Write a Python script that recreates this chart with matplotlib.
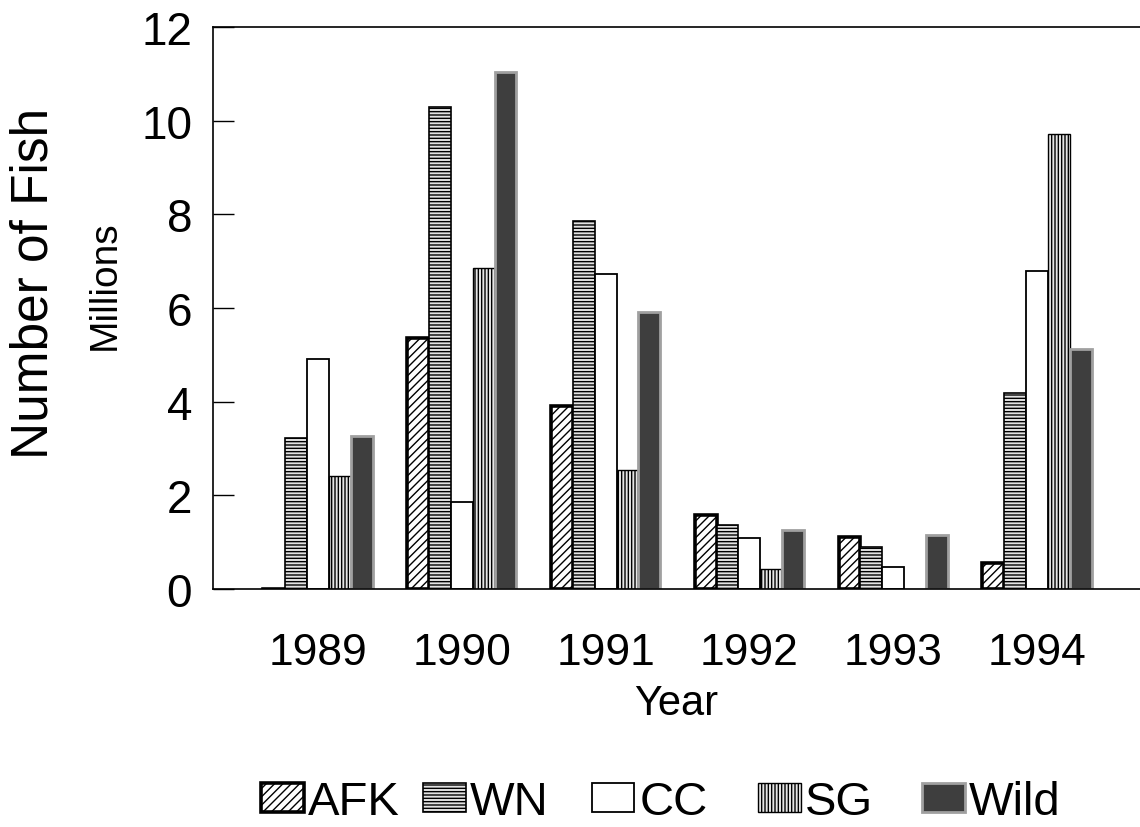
import numpy as np
import matplotlib
matplotlib.use("Agg")
import matplotlib.pyplot as plt

plt.rcParams['font.family'] = ['Liberation Sans', 'DejaVu Sans']
plt.rcParams['hatch.linewidth'] = 1.0

years = ['1989', '1990', '1991', '1992', '1993', '1994']
series = ['AFK', 'WN', 'CC', 'SG', 'Wild']

afk = [-0.06, 5.35, 3.9, 1.58, 1.12, 0.55]
wn = [3.22, 10.3, 7.85, 1.36, 0.9, 4.18]
cc = [4.92, 1.85, 6.72, 1.1, 0.48, 6.8]
sg = [2.42, 6.85, 2.55, 0.42, 0.0, 9.72]
wild = [3.27, 11.03, 5.92, 1.25, 1.16, 5.12]

values = [afk, wn, cc, sg, wild]

# style per series
styles = [
    dict(facecolor='white', edgecolor='black', hatch='////', linewidth=2.6),
    dict(facecolor='#e2e2e2', edgecolor='black', hatch='-----', linewidth=1.2),
    dict(facecolor='white', edgecolor='black', hatch=None, linewidth=1.3),
    dict(facecolor='#e6e6e6', edgecolor='black', hatch='|||||', linewidth=1.0),
    dict(facecolor='#3e3e3e', edgecolor='#a0a0a0', hatch=None, linewidth=2.0),
]

fig = plt.figure(figsize=(11.4, 8.28), dpi=100)
ax = fig.add_axes([0.1868, 0.2874, 0.8132, 0.6788])

x = np.arange(len(years))
width = 0.152
bars = []
for i, (name, vals) in enumerate(zip(series, values)):
    bars.append(ax.bar(x + (i - 2) * width, vals, width, label=name, **styles[i]))

ax.set_xlim(-0.73, 5.716)
ax.set_ylim(0, 12)
ax.set_yticks(range(0, 13, 2))
ax.set_xticks(x)
ax.set_xticklabels(years)
ax.tick_params(axis='x', length=0, pad=31, labelsize=32)
ax.tick_params(axis='y', direction='in', length=15, width=1, pad=15, labelsize=33)
ax.spines['right'].set_visible(False)
for s in ['left', 'top', 'bottom']:
    ax.spines[s].set_linewidth(1.2)

ax.set_xlabel('Year', fontsize=30, labelpad=7)
fig.text(0.03, 0.658, 'Number of Fish', rotation=90, fontsize=37,
         ha='center', va='center')
fig.text(0.092, 0.656, 'Millions', rotation=90, fontsize=28,
         ha='center', va='center')

# one legend per entry so the spacing follows the original
leg_x = [261, 423, 592, 758, 922]
for b, name, lx in zip(bars, series, leg_x):
    leg = fig.legend([b], [name], loc='center left',
                     bbox_to_anchor=(lx / 1140, 0.03), frameon=False,
                     fontsize=34, handlelength=0.9, handleheight=0.55,
                     handletextpad=0.1, borderpad=0, borderaxespad=0)

fig.savefig('out.png', dpi=100)
